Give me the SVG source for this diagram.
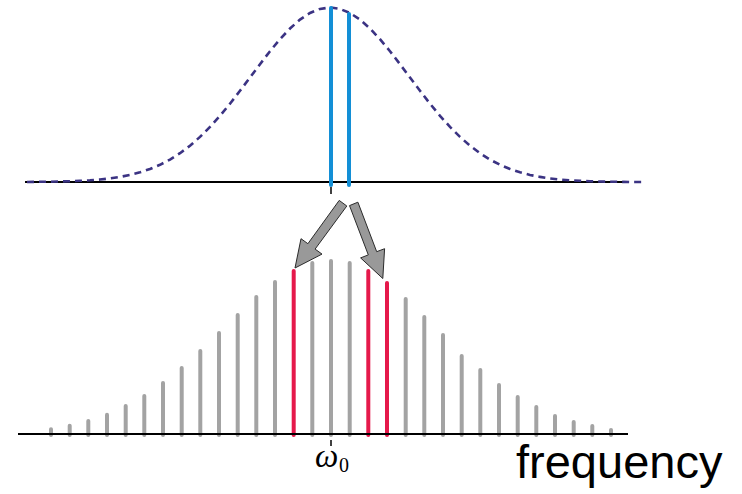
<svg xmlns="http://www.w3.org/2000/svg" width="742" height="494" viewBox="0 0 742 494">
  <style>
    .axis { stroke: #000; stroke-width: 2; fill: none; }
    .tick { stroke: #000; stroke-width: 1.5; }
    .gauss { stroke: #3b3383; stroke-width: 2.6; fill: none; stroke-dasharray: 7 5; }
    .blue { stroke: #138fd6; stroke-width: 4; stroke-linecap: round; }
    .bar { stroke: #a3a3a3; stroke-width: 4; stroke-linecap: round; }
    .red { stroke: #e5194b; stroke-width: 4; stroke-linecap: round; }
    .arrow { fill: #999999; stroke: #2a2a2a; stroke-width: 1; stroke-linejoin: miter; }
    .omega { font-family: "Liberation Serif", "DejaVu Serif", serif; font-style: italic; fill: #000; }
    .sub { font-family: "Liberation Serif", "DejaVu Serif", serif; fill: #000; }
    .label { font-family: "Liberation Sans", Arial, sans-serif; fill: #000; }
  </style>
  <rect width="742" height="494" fill="#fff"/>

  <g id="top-spectrum">
    <line class="axis" x1="25" y1="182" x2="625" y2="182"/>
    <line class="tick" x1="331" y1="187" x2="331" y2="194"/>
    <path class="gauss" d="M27,182 L40,181.8 L50,181.7 L60,181.5 L70,181.2 L80,180.8 L90,180.3 L100,179.5 L110,178.4 L120,176.9 L130,174.9 L140,172.3 L150,169 L160,164.8 L170,159.6 L180,153.2 L190,145.7 L200,136.9 L210,126.9 L220,115.8 L230,103.7 L240,90.8 L250,77.5 L260,64.2 L270,51.2 L280,39.2 L290,28.5 L300,19.6 L310,13 L320,8.9 L330,7.5 L340,8.9 L350,13 L360,19.6 L370,28.5 L380,39.2 L390,51.2 L400,64.2 L410,77.5 L420,90.8 L430,103.7 L440,115.8 L450,126.9 L460,136.9 L470,145.7 L480,153.2 L490,159.6 L500,164.8 L510,169 L520,172.3 L530,174.9 L540,176.9 L550,178.4 L560,179.5 L570,180.3 L580,180.8 L590,181.2 L600,181.5 L610,181.7 L620,181.8 L630,182 L645,182"/>
    <line class="blue" x1="331" y1="8" x2="331" y2="185"/>
    <line class="blue" x1="349" y1="14" x2="349" y2="185"/>
  </g>

  <g id="connectors">
    <polygon class="arrow" points="339.2,200.4 307.9,243.7 301,238.7 295,268 322,254.1 315.1,249.1 346.8,206"/>
    <polygon class="arrow" points="349.5,205.6 368.3,254.9 360.6,257.9 382.8,278.5 384.6,248.7 376.7,251.7 357.9,202.2"/>
  </g>

  <g id="bottom-comb">
    <line class="bar" x1="51" y1="429.3" x2="51" y2="435"/>
    <line class="bar" x1="69.7" y1="425.7" x2="69.7" y2="435"/>
    <line class="bar" x1="88.3" y1="421" x2="88.3" y2="435"/>
    <line class="bar" x1="107" y1="414.7" x2="107" y2="435"/>
    <line class="bar" x1="125.7" y1="406" x2="125.7" y2="435"/>
    <line class="bar" x1="144.3" y1="396" x2="144.3" y2="435"/>
    <line class="bar" x1="163" y1="383" x2="163" y2="435"/>
    <line class="bar" x1="181.7" y1="368" x2="181.7" y2="435"/>
    <line class="bar" x1="200.3" y1="351" x2="200.3" y2="435"/>
    <line class="bar" x1="219" y1="333" x2="219" y2="435"/>
    <line class="bar" x1="237.7" y1="315" x2="237.7" y2="435"/>
    <line class="bar" x1="256.3" y1="297" x2="256.3" y2="435"/>
    <line class="bar" x1="275" y1="282" x2="275" y2="435"/>
    <line class="red" x1="293.7" y1="271" x2="293.7" y2="435"/>
    <line class="bar" x1="312.3" y1="263" x2="312.3" y2="435"/>
    <line class="bar" x1="331" y1="261" x2="331" y2="435"/>
    <line class="bar" x1="349.7" y1="263" x2="349.7" y2="435"/>
    <line class="red" x1="368.3" y1="271" x2="368.3" y2="435"/>
    <line class="red" x1="387" y1="283" x2="387" y2="435"/>
    <line class="bar" x1="405.7" y1="299" x2="405.7" y2="435"/>
    <line class="bar" x1="424.3" y1="317" x2="424.3" y2="435"/>
    <line class="bar" x1="443" y1="335" x2="443" y2="435"/>
    <line class="bar" x1="461.7" y1="356" x2="461.7" y2="435"/>
    <line class="bar" x1="480.3" y1="370" x2="480.3" y2="435"/>
    <line class="bar" x1="499" y1="385" x2="499" y2="435"/>
    <line class="bar" x1="517.7" y1="397" x2="517.7" y2="435"/>
    <line class="bar" x1="536.3" y1="407" x2="536.3" y2="435"/>
    <line class="bar" x1="555" y1="416" x2="555" y2="435"/>
    <line class="bar" x1="573.7" y1="422" x2="573.7" y2="435"/>
    <line class="bar" x1="592.3" y1="426" x2="592.3" y2="435"/>
    <line class="bar" x1="611" y1="430" x2="611" y2="435"/>
    <line class="axis" x1="18" y1="434" x2="628" y2="434"/>
    <line class="tick" x1="331" y1="440" x2="331" y2="446"/>
  </g>

  <g id="labels">
    <text class="omega" x="315" y="467" font-size="33">ω</text>
    <text class="sub" x="339" y="472" font-size="20">0</text>
    <text class="label" x="516" y="478" font-size="47">frequency</text>
  </g>
</svg>
